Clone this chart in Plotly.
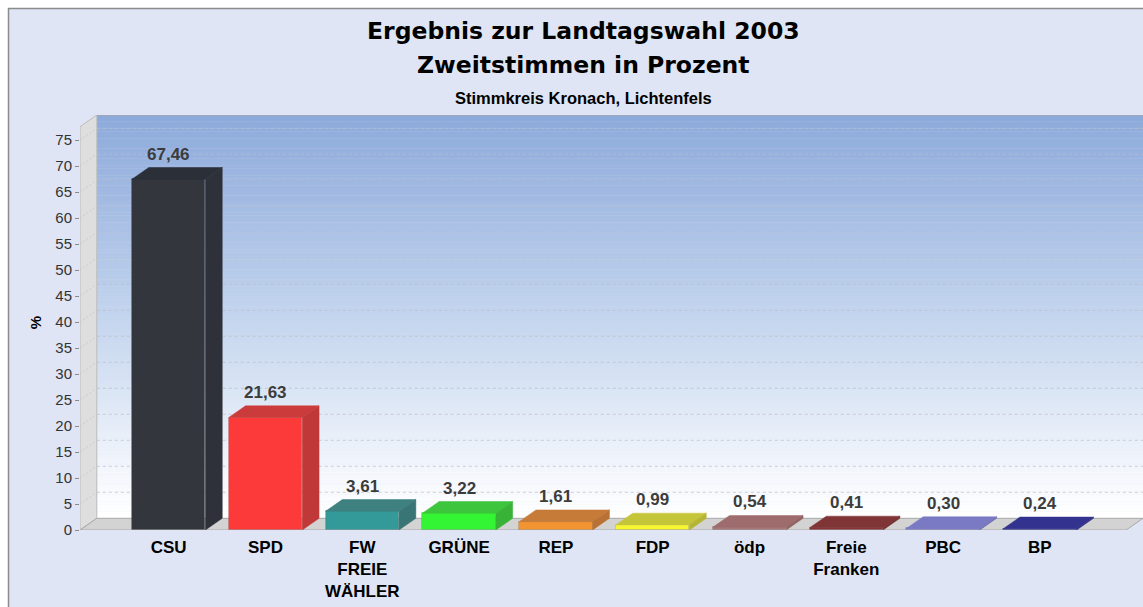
import plotly.graph_objects as go

# ---------------- data ----------------
parties = ["CSU", "SPD", "FW<br>FREIE<br>WÄHLER", "GRÜNE", "REP", "FDP",
           "ödp", "Freie<br>Franken", "PBC", "BP"]
values = [67.46, 21.63, 3.61, 3.22, 1.61, 0.99, 0.54, 0.41, 0.30, 0.24]
value_labels = ["67,46", "21,63", "3,61", "3,22", "1,61", "0,99",
                "0,54", "0,41", "0,30", "0,24"]
y_ticks = [0, 5, 10, 15, 20, 25, 30, 35, 40, 45, 50, 55, 60, 65, 70, 75]

# ---------------- styles ----------------
front_colors = ["#33363C", "#FC3A3A", "#339999", "#33F533", "#F39433",
                "#F7F733", "#A87878", "#8A3535", "#8585D0", "#363699"]
top_colors = ["#2B2F38", "#CC3B3B", "#3F8080", "#3DC53D", "#C77B39",
              "#C5C53A", "#9E6C6C", "#7F3535", "#7A7AC4", "#33338F"]
side_colors = ["#2E3139", "#C03838", "#3A7575", "#38B338", "#B97233",
               "#B5B534", "#926363", "#743030", "#7070B5", "#2E2E84"]

W, H = 1143, 607
PX_L, PX_R, PX_T, PX_B = 80, 1143, 115, 530
PITCH = 96.8                 # px between category centres
FIRST_C = 168.7              # px of first category centre
YSCALE = 5.2                 # px per percent
DX = 16.8 / PITCH            # depth offset in x units
BAR_W = 73.5 / PITCH

x_range = [(PX_L - FIRST_C) / PITCH, (PX_R - FIRST_C) / PITCH]
y_top = (PX_B - PX_T) / YSCALE
y_range = [0, y_top]
DY = 11.7 / YSCALE
xL, xR = x_range
n = len(values)
xs = list(range(n))


def hex2rgb(h):
    h = h.lstrip("#")
    return tuple(int(h[i:i + 2], 16) for i in (0, 2, 4))


def interp(stops, t):
    for (t0, c0), (t1, c1) in zip(stops, stops[1:]):
        if t0 <= t <= t1:
            f = (t - t0) / (t1 - t0) if t1 > t0 else 0
            a, b = hex2rgb(c0), hex2rgb(c1)
            return "rgb(%d,%d,%d)" % tuple(round(a[i] + (b[i] - a[i]) * f) for i in range(3))
    return stops[-1][1]


def px2paper_x(px):
    return (px - PX_L) / (PX_R - PX_L)


def px2paper_y(py):
    return (PX_B - py) / (PX_B - PX_T)


shapes = []
# outer frame
shapes.append(dict(type="rect", xref="paper", yref="paper",
                   x0=px2paper_x(8.5), x1=px2paper_x(W + 20),
                   y0=px2paper_y(H + 20), y1=px2paper_y(8.5),
                   fillcolor="#DFE5F4", line=dict(color="#8C8C8C", width=1.5),
                   layer="below"))

# back wall gradient (strips)
grad = [(0.0, "#FFFFFF"), (0.12, "#F3F6FC"), (0.3, "#DCE6F5"),
        (0.55, "#BDD0EC"), (0.8, "#A2BAE2"), (1.0, "#8CAADA")]
NS = 120
for k in range(NS):
    t = (k + 0.5) / NS
    y0 = DY + (y_top - DY) * k / NS
    y1 = DY + (y_top - DY) * (k + 1) / NS + 0.05
    shapes.append(dict(type="rect", xref="x", yref="y", x0=xL + DX, x1=xR,
                       y0=y0, y1=min(y1, y_top), fillcolor=interp(grad, t),
                       line=dict(width=0), layer="below"))

# gridlines on the back wall and left wall
for v in y_ticks[1:]:
    shapes.append(dict(type="line", xref="x", yref="y", x0=xL + DX, x1=xR,
                       y0=v + DY, y1=v + DY,
                       line=dict(color="rgba(185,190,200,0.7)", width=1, dash="3px,3px"),
                       layer="below"))

# left wall
shapes.append(dict(type="path", xref="x", yref="y",
                   path="M %f,%f L %f,%f L %f,%f L %f,%f Z" % (
                       xL, 0, xL + DX, DY, xL + DX, y_top, xL, y_top - DY),
                   fillcolor="#DEDEDE", line=dict(color="#BBBBBB", width=1),
                   layer="below"))
for v in y_ticks[1:]:
    shapes.append(dict(type="line", xref="x", yref="y", x0=xL, x1=xL + DX,
                       y0=v, y1=v + DY,
                       line=dict(color="rgba(200,200,200,0.9)", width=1, dash="2px,2px"),
                       layer="below"))
# floor
shapes.append(dict(type="path", xref="x", yref="y",
                   path="M %f,%f L %f,%f L %f,%f L %f,%f Z" % (
                       xL, 0, xR - DX, 0, xR, DY, xL + DX, DY),
                   fillcolor="#D3D3D3", line=dict(color="#A8A8A8", width=1),
                   layer="below"))
# back wall top edge
shapes.append(dict(type="line", xref="x", yref="y", x0=xL + DX, x1=xR,
                   y0=y_top, y1=y_top, line=dict(color="#9EA7B8", width=2),
                   layer="below"))

fig = go.Figure()

# front faces of the bars
fig.add_trace(go.Bar(x=xs, y=values, width=BAR_W,
                     marker=dict(color=front_colors,
                                 line=dict(color="rgba(0,0,0,0.15)", width=0.8)),
                     hoverinfo="skip", showlegend=False))

# top and side faces (3D effect), derived from the values
for i, v in enumerate(values):
    x0, x1 = i - BAR_W / 2, i + BAR_W / 2
    fig.add_trace(go.Scatter(
        x=[x0, x1, x1 + DX, x0 + DX, x0], y=[v, v, v + DY, v + DY, v],
        mode="lines", fill="toself", fillcolor=top_colors[i],
        line=dict(color=top_colors[i], width=0.5),
        hoverinfo="skip", showlegend=False))
    fig.add_trace(go.Scatter(
        x=[x1, x1 + DX, x1 + DX, x1, x1], y=[0, DY, v + DY, v, 0],
        mode="lines", fill="toself", fillcolor=side_colors[i],
        line=dict(color=side_colors[i], width=0.5),
        hoverinfo="skip", showlegend=False))

annotations = []
for i, (v, lab) in enumerate(zip(values, value_labels)):
    annotations.append(dict(x=i, y=v + DY, xref="x", yref="y", text=lab,
                            showarrow=False, yanchor="bottom", yshift=2,
                            font=dict(family="Liberation Sans, Arial", size=17,
                                      color="#3C3C3C", weight="bold")))

TITLE_X = px2paper_x(583)
annotations.append(dict(xref="paper", yref="paper", x=TITLE_X, y=px2paper_y(31),
                        text="<b>Ergebnis zur Landtagswahl 2003</b>", showarrow=False,
                        yanchor="middle", xanchor="center",
                        font=dict(family="DejaVu Sans", size=23.5, color="#000000")))
annotations.append(dict(xref="paper", yref="paper", x=TITLE_X, y=px2paper_y(65),
                        text="<b>Zweitstimmen in Prozent</b>", showarrow=False,
                        yanchor="middle", xanchor="center",
                        font=dict(family="DejaVu Sans", size=23.5, color="#000000")))
annotations.append(dict(xref="paper", yref="paper", x=TITLE_X, y=px2paper_y(98),
                        text="<b>Stimmkreis Kronach, Lichtenfels</b>", showarrow=False,
                        yanchor="middle", xanchor="center",
                        font=dict(family="Liberation Sans, Arial", size=16.5, color="#000000")))

fig.update_layout(
    width=W, height=H,
    margin=dict(l=PX_L, r=W - PX_R, t=PX_T, b=H - PX_B, pad=0),
    paper_bgcolor="#FFFFFF", plot_bgcolor="rgba(0,0,0,0)",
    shapes=shapes, annotations=annotations,
    bargap=0, showlegend=False,
    xaxis=dict(range=x_range, tickvals=xs, ticktext=parties, ticks="",
               showgrid=False, zeroline=False, showline=False, fixedrange=True,
               ticklabelstandoff=5,
               tickfont=dict(family="Liberation Sans, Arial", size=17,
                             color="#000000", weight="bold")),
    yaxis=dict(range=y_range, tickvals=y_ticks, ticktext=[str(t) for t in y_ticks],
               ticks="outside", ticklen=4, tickcolor="#8A8A8A", tickwidth=1,
               showgrid=False, zeroline=False, showline=False, fixedrange=True,
               tickfont=dict(family="Liberation Sans, Arial", size=15, color="#333333"),
               title=dict(text="<b>%</b>", standoff=10,
                          font=dict(family="Liberation Sans, Arial", size=15, color="#000000"))),
)

fig.write_html("out.html", config={"displayModeBar": False},
               post_script="document.body.style.margin='0';"
                           "document.documentElement.style.overflow='hidden';"
                           "document.body.style.overflow='hidden';")
